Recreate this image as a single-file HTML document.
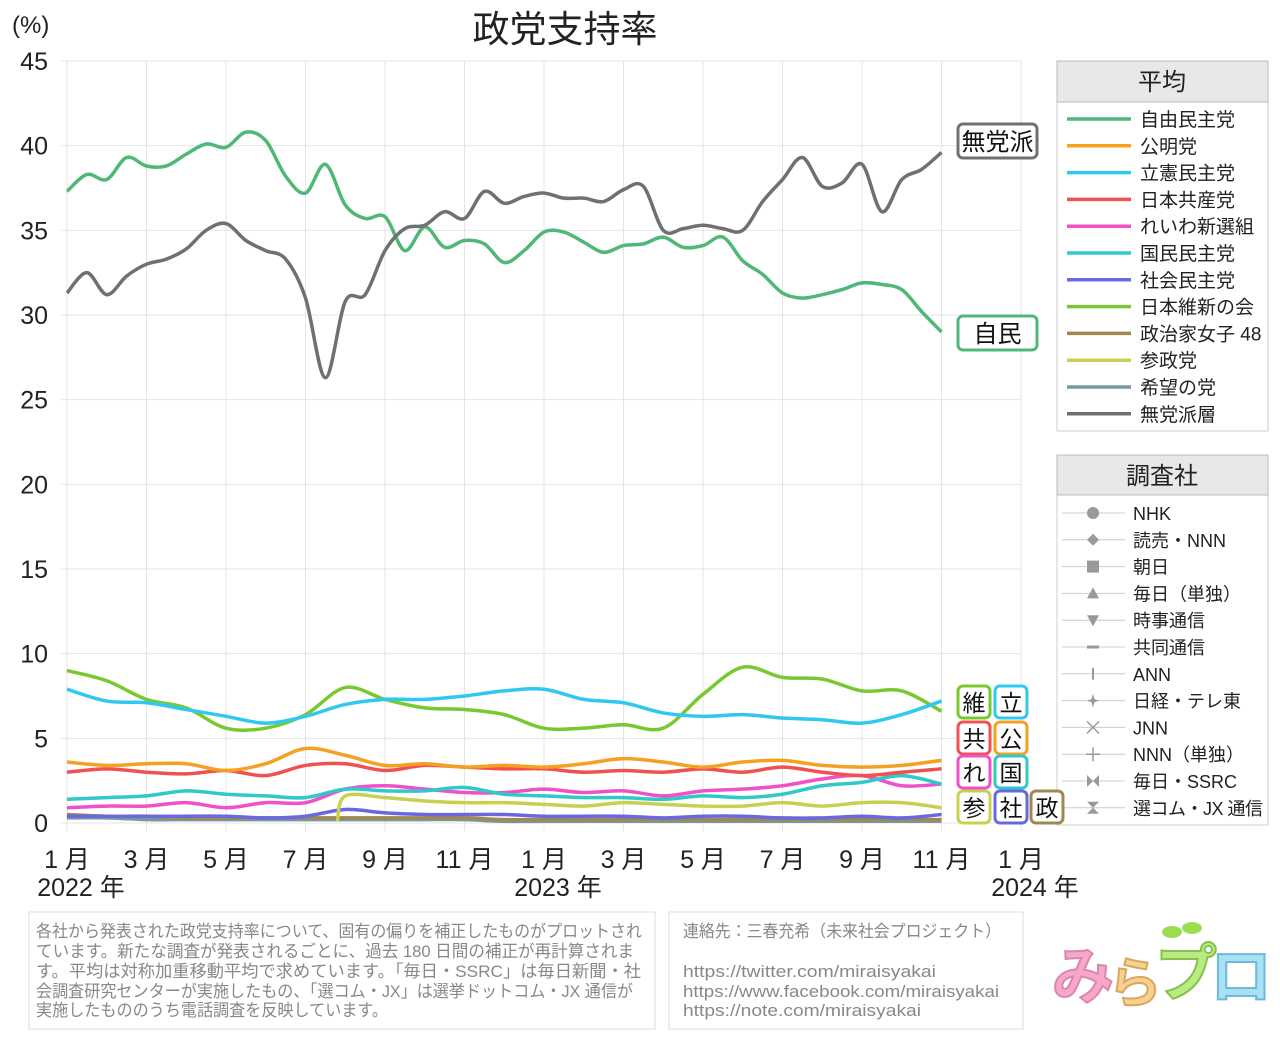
<!DOCTYPE html>
<html><head><meta charset="utf-8"><style>
body{margin:0;background:#fff;width:1280px;height:1041px;overflow:hidden;font-family:"Liberation Sans","Noto Sans CJK JP",sans-serif}
svg text{font-family:"Liberation Sans","Noto Sans CJK JP",sans-serif}
</style></head><body>
<svg id="c" width="1280" height="1041" xmlns="http://www.w3.org/2000/svg">
<text x="565" y="42" font-size="37" text-anchor="middle" fill="#222">政党支持率</text>
<text x="12" y="33" font-size="24" fill="#222">(%)</text>
<g id="grid"></g><g id="lines"></g>
<rect x="1057" y="61" width="211" height="370" fill="#fff" stroke="#ccc"/>
<rect x="1057" y="61" width="211" height="41" fill="#e8e8e8" stroke="#bbb"/>
<text x="1162" y="90" font-size="24" text-anchor="middle" fill="#222">平均</text>
<g id="leg1"></g>
<rect x="1057" y="455" width="211" height="370" fill="#fff" stroke="#ccc"/>
<rect x="1057" y="455" width="211" height="40" fill="#e8e8e8" stroke="#bbb"/>
<text x="1162" y="484" font-size="24" text-anchor="middle" fill="#222">調査社</text>
<g id="leg2"></g>
<g id="tags"></g>
<rect x="29" y="912" width="626" height="117" fill="#fff" stroke="#ddd"/>
<g font-size="17" fill="#888" lengthAdjust="spacingAndGlyphs">
<text x="36" y="937" textLength="606" lengthAdjust="spacingAndGlyphs">各社から発表された政党支持率について、固有の偏りを補正したものがプロットされ</text>
<text x="36" y="957" textLength="598" lengthAdjust="spacingAndGlyphs">ています。新たな調査が発表されるごとに、過去 180 日間の補正が再計算されま</text>
<text x="36" y="977" textLength="605" lengthAdjust="spacingAndGlyphs">す。平均は対称加重移動平均で求めています。「毎日・SSRC」は毎日新聞・社</text>
<text x="36" y="997" textLength="597" lengthAdjust="spacingAndGlyphs">会調査研究センターが実施したもの、「選コム・JX」は選挙ドットコム・JX 通信が</text>
<text x="36" y="1016" textLength="352" lengthAdjust="spacingAndGlyphs">実施したもののうち電話調査を反映しています。</text></g>
<rect x="669" y="912" width="354" height="117" fill="#fff" stroke="#ddd"/>
<g font-size="17" fill="#888">
<text x="683" y="937" textLength="318" lengthAdjust="spacingAndGlyphs">連絡先：三春充希（未来社会プロジェクト）</text>
<text x="683" y="977" textLength="253" lengthAdjust="spacingAndGlyphs">https://twitter.com/miraisyakai</text>
<text x="683" y="997" textLength="316" lengthAdjust="spacingAndGlyphs">https://www.facebook.com/miraisyakai</text>
<text x="683" y="1016" textLength="238" lengthAdjust="spacingAndGlyphs">https://note.com/miraisyakai</text></g>
<g font-size="62" font-weight="bold" stroke-width="2">
<text x="1052" y="998" fill="#f7a8c8" stroke="#d888b0">み</text>
<text x="1108" y="1002" fill="#f8d090" stroke="#d8a860" font-size="54">ら</text>
<text x="1155" y="995" fill="#b8ec80" stroke="#88c050">プ</text>
<text x="1210" y="998" fill="#a8e0f4" stroke="#70b8d8">ロ</text>
<ellipse cx="1172" cy="932" rx="10" ry="6" fill="#9ade50"/><ellipse cx="1192" cy="928" rx="10" ry="6" fill="#9ade50"/>
</g>
</svg>
<script>
// data
const tHalf=[];for(let i=0;i<=44;i++)tHalf.push(i/2);
const tMon=[];for(let i=0;i<=22;i++)tMon.push(i);
const tSan=[6.8,7,8,9,10,11,12,13,14,15,16,17,18,19,20,21,22];
const ldp=[37.3,38.3,38,39.3,38.8,38.8,39.5,40.1,39.9,40.8,40.3,38.2,37.2,38.9,36.5,35.7,35.8,33.8,35.2,34,34.4,34.2,33.1,33.8,34.9,34.9,34.3,33.7,34.1,34.2,34.6,34,34.1,34.6,33.2,32.4,31.3,31,31.2,31.5,31.9,31.8,31.5,30.2,29.0];
const indep=[31.3,32.5,31.2,32.3,33,33.3,33.9,35,35.4,34.4,33.8,33.3,31,26.3,30.8,31.2,33.8,35.1,35.3,36.1,35.7,37.3,36.6,37,37.2,36.9,36.9,36.7,37.4,37.6,35,35.1,35.3,35.1,35,36.7,38,39.3,37.6,37.8,38.9,36.1,38,38.6,39.6];
const ishin=[9.0,8.4,7.3,6.8,5.6,5.6,6.4,8.0,7.3,6.8,6.7,6.4,5.6,5.6,5.8,5.6,7.6,9.2,8.6,8.5,7.8,7.8,6.6];
const cdp=[7.9,7.2,7.1,6.7,6.3,5.9,6.3,7.0,7.3,7.3,7.5,7.8,7.9,7.3,7.1,6.5,6.3,6.4,6.2,6.1,5.9,6.4,7.2];
const komei=[3.6,3.4,3.5,3.5,3.1,3.5,4.4,4.0,3.4,3.5,3.3,3.4,3.3,3.5,3.8,3.6,3.3,3.6,3.7,3.4,3.3,3.4,3.7];
const jcp=[3.0,3.2,3.0,2.9,3.1,2.8,3.4,3.5,3.1,3.4,3.3,3.2,3.2,3.0,3.1,3.0,3.2,3.0,3.3,3.0,2.8,3.0,3.2];
const reiwa=[0.9,1.0,1.0,1.2,0.9,1.2,1.2,2.0,2.2,2.0,1.8,1.8,2.0,1.8,1.9,1.6,1.9,2.0,2.2,2.6,2.8,2.2,2.3];
const dpfp=[1.4,1.5,1.6,1.9,1.7,1.6,1.5,2.0,1.9,1.9,2.1,1.7,1.6,1.5,1.5,1.4,1.6,1.5,1.7,2.2,2.4,2.8,2.3];
const sdp=[0.4,0.4,0.4,0.4,0.4,0.3,0.4,0.8,0.6,0.5,0.5,0.5,0.4,0.4,0.4,0.3,0.4,0.4,0.3,0.3,0.4,0.3,0.5];
const sansei=[0.1,1.6,1.5,1.3,1.2,1.2,1.1,1.0,1.2,1.1,1.0,1.0,1.2,1.0,1.2,1.2,0.9];
const joshi=[0.5,0.4,0.4,0.3,0.3,0.3,0.3,0.3,0.3,0.3,0.3,0.2,0.2,0.2,0.2,0.2,0.2,0.2,0.2,0.2,0.2,0.2,0.2];
const kibou=[0.3,0.3,0.2,0.2,0.2,0.2,0.2,0.2,0.2,0.2,0.2,0.1,0.1,0.1,0.1,0.1,0.1,0.1,0.1,0.1,0.1,0.1,0.1];
const yTicks=[0,5,10,15,20,25,30,35,40,45];
const xTickMonths=[0,2,4,6,8,10,12,14,16,18,20,22,24];
const xTickLabels=["1 月","3 月","5 月","7 月","9 月","11 月","1 月","3 月","5 月","7 月","9 月","11 月","1 月"];
const yearLabels=["2022 年","2023 年","2024 年"];
const yearMonths=[0,12,24];
const partyNames=["自由民主党","公明党","立憲民主党","日本共産党","れいわ新選組","国民民主党","社会民主党","日本維新の会","政治家女子 48","参政党","希望の党","無党派層"];
const partyColors=["#4fb878","#f5a020","#30c8f0","#f05050","#f050c8","#30c8c8","#6868e0","#78c830","#a08850","#c8d050","#7898a0","#707070"];
const pollsters=["NHK","読売・NNN","朝日","毎日（単独）","時事通信","共同通信","ANN","日経・テレ東","JNN","NNN（単独）","毎日・SSRC","選コム・JX 通信"];

const NS="http://www.w3.org/2000/svg";
const X0=67,X1=1021,Y0=823,Y1=61;
const xs=m=>X0+m*(X1-X0)/24;
const ys=v=>Y0-v*(Y0-Y1)/45;
function mk(tag,attrs,parent,txt){const e=document.createElementNS(NS,tag);for(const k in attrs)e.setAttribute(k,attrs[k]);if(txt!=null)e.textContent=txt;parent.appendChild(e);return e;}
const grid=document.getElementById('grid');
mk('rect',{x:X0,y:Y1,width:X1-X0,height:Y0-Y1,fill:'#fff',stroke:'#ddd'},grid);
yTicks.forEach(v=>{
 mk('line',{x1:X0-6,x2:X1,y1:ys(v),y2:ys(v),stroke:'#e4e4e4'},grid);
 const t=mk('text',{x:48,y:ys(v)+9,'font-size':25,'text-anchor':'end',fill:'#222'},grid,v);
 
 
});
xTickMonths.forEach((m,i)=>{
 mk('line',{x1:xs(m),x2:xs(m),y1:Y1,y2:Y0+8,stroke:'#e4e4e4'},grid);
 const t=mk('text',{x:xs(m),y:868,'font-size':25,'text-anchor':'middle',fill:'#222'},grid,xTickLabels[i]);
 
 
});
yearMonths.forEach((m,i)=>{
 const t=mk('text',{x:xs(m)+14,y:896,'font-size':25,'text-anchor':'middle',fill:'#222'},grid,yearLabels[i]);
 
 
});
function path(ts,vs){
 const p=ts.map((t,i)=>[xs(t),ys(vs[i])]);
 let d='M'+p[0][0]+','+p[0][1];
 for(let i=0;i<p.length-1;i++){
  const a=p[Math.max(0,i-1)],b=p[i],c=p[i+1],e=p[Math.min(p.length-1,i+2)];
  d+=` C${b[0]+(c[0]-a[0])/6},${b[1]+(c[1]-a[1])/6} ${c[0]-(e[0]-b[0])/6},${c[1]-(e[1]-b[1])/6} ${c[0]},${c[1]}`;
 }
 return d;
}
const L=document.getElementById('lines');
const series=[[tMon,kibou,10,'kibou-line'],[tMon,joshi,8,'joshi-line'],[tMon,sdp,6,'sdp-line'],[tSan,sansei,9,'sanseito-line'],[tMon,reiwa,4,'reiwa-line'],[tMon,dpfp,5,'dpfp-line'],[tMon,jcp,3,'jcp-line'],[tMon,komei,1,'komeito-line'],[tMon,ishin,7,'ishin-line'],[tMon,cdp,2,'cdp-line'],[tHalf,ldp,0,'ldp-line'],[tHalf,indep,11,'independent-line']];
series.forEach(s=>{
 const e=mk('path',{d:path(s[0],s[1]),fill:'none',stroke:partyColors[s[2]],'stroke-width':3.5,'stroke-linejoin':'round'},L);
 
 
});
const T=document.getElementById('tags');
const tags=[["無党派",958,124,79,34,11,24],["自民",958,316,79,34,0,24],["維",958,686,32,32,7,23],["立",995,686,32,32,2,23],["共",958,722,32,32,3,23],["公",995,722,32,32,1,23],["れ",958,756,32,32,4,23],["国",995,756,32,32,5,23],["参",958,791,32,32,9,23],["社",995,791,32,32,6,23],["政",1031,791,32,32,8,23]];
tags.forEach(g=>{
 const r=mk('rect',{x:g[1],y:g[2],width:g[3],height:g[4],rx:5,fill:'#fff',stroke:partyColors[g[5]],'stroke-width':3},T);
 
 
 mk('text',{x:g[1]+g[3]/2,y:g[2]+g[4]/2+9,'font-size':g[6],'text-anchor':'middle',fill:'#111'},T,g[0]);
});
const L1=document.getElementById('leg1');
partyNames.forEach((n,i)=>{
 const y=119+i*26.8;
 const g=mk('g',{},L1);
 
 
 mk('line',{x1:1067,x2:1131,y1:y,y2:y,stroke:partyColors[i],'stroke-width':3.5},g);
 mk('text',{x:1140,y:y+7,'font-size':19,fill:'#222'},g,n);
});
const L2=document.getElementById('leg2');
const sym=['circle','diamond','square','tri','tridown','dash','bar','star','x','plus','bowtie','hourglass'];
pollsters.forEach((n,i)=>{
 const y=513+i*26.8,x=1093;
 const g=mk('g',{},L2);
 
 
 mk('line',{x1:1062,x2:1125,y1:y,y2:y,stroke:'#ccc'},g);
 const c='#999',s=sym[i];
 if(s==='circle')mk('circle',{cx:x,cy:y,r:6,fill:c},g);
 if(s==='diamond')mk('path',{d:`M${x},${y-6}L${x+6},${y}L${x},${y+6}L${x-6},${y}Z`,fill:c},g);
 if(s==='square')mk('rect',{x:x-6,y:y-6,width:12,height:12,fill:c},g);
 if(s==='tri')mk('path',{d:`M${x},${y-6}L${x+6},${y+5}L${x-6},${y+5}Z`,fill:c},g);
 if(s==='tridown')mk('path',{d:`M${x},${y+6}L${x+6},${y-5}L${x-6},${y-5}Z`,fill:c},g);
 if(s==='dash')mk('line',{x1:x-6,x2:x+6,y1:y,y2:y,stroke:c,'stroke-width':3},g);
 if(s==='bar')mk('line',{x1:x,x2:x,y1:y-6,y2:y+6,stroke:c,'stroke-width':2},g);
 if(s==='star')mk('path',{d:`M${x},${y-7}L${x+1.5},${y-1.5}L${x+6},${y}L${x+1.5},${y+1.5}L${x},${y+7}L${x-1.5},${y+1.5}L${x-6},${y}L${x-1.5},${y-1.5}Z`,fill:c},g);
 if(s==='x')mk('path',{d:`M${x-6},${y-6}L${x+6},${y+6}M${x+6},${y-6}L${x-6},${y+6}`,stroke:c,'stroke-width':1.5},g);
 if(s==='plus')mk('path',{d:`M${x-7},${y}L${x+7},${y}M${x},${y-7}L${x},${y+7}`,stroke:c,'stroke-width':1.5},g);
 if(s==='bowtie')mk('path',{d:`M${x-6},${y-6}L${x+6},${y+6}L${x+6},${y-6}L${x-6},${y+6}Z`,fill:c},g);
 if(s==='hourglass')mk('path',{d:`M${x-6},${y-6}L${x+6},${y-6}L${x-6},${y+6}L${x+6},${y+6}Z`,fill:c},g);
 const t=mk('text',{x:1133,y:y+7,'font-size':18,fill:'#222'},g,n);
 if(n.length>8)t.setAttribute('textLength',130);
});
</script>
</body></html>
